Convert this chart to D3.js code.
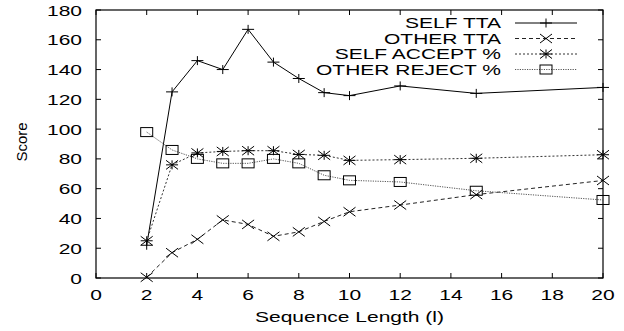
<!DOCTYPE html>
<html>
<head>
<meta charset="utf-8">
<script src="https://cdn.jsdelivr.net/npm/d3@7"></script>
<style>
  body { margin: 0; background: #fff; }
  text { font-family: "Liberation Sans", Arial, sans-serif; fill: #000; }
</style>
</head>
<body>
<div id="chart"></div>
<script>
// sequence lengths
const lengths = [2, 3, 4, 5, 6, 7, 8, 9, 10, 12, 15, 20];
const selfTta = [22, 125, 146, 140, 167, 145, 134, 124.5, 122.5, 129, 124, 128];
const otherTta = [0.5, 17, 26, 39, 36, 28, 31, 38, 44.5, 49, 56, 65.5];
const selfAccept = [25, 76, 84, 85, 85.5, 85.5, 83, 82.4, 79, 79.5, 80.4, 82.8];
const otherReject = [98, 86, 80, 77, 77, 80, 77, 69, 65.6, 64.5, 58.6, 52.4];
const xTicks = [0, 2, 4, 6, 8, 10, 12, 14, 16, 18, 20];
const yTicks = [0, 20, 40, 60, 80, 100, 120, 140, 160, 180];

const seriesNames = ['SELF TTA', 'OTHER TTA', 'SELF ACCEPT %', 'OTHER REJECT %'];
const seriesVals = [selfTta, otherTta, selfAccept, otherReject];
const dashes = [null, '4,3', '2,2', '1.2,1.2'];
const strokes = ['#000', '#222', '#333', '#555'];
const markers = ['plus', 'cross', 'star', 'square'];

const width = 624, height = 331;
const margin = {left: 96, right: 21, top: 10, bottom: 53};

const svg = d3.select('#chart').append('svg')
    .attr('width', width)
    .attr('height', height);

const x = d3.scaleLinear().domain([0, 20]).range([margin.left, width - margin.right]);
const y = d3.scaleLinear().domain([0, 180]).range([height - margin.bottom, margin.top]);

const tickLen = 5;
const stretch = 1.5; // the labels in the original are wide

function addText(tx, ty, str, anchor) {
  return svg.append('text')
      .attr('transform', 'translate(' + tx + ',' + ty + ') scale(' + stretch + ',1)')
      .attr('text-anchor', anchor)
      .style('font-size', '14px')
      .text(str);
}

// ticks on all four sides (gnuplot style, pointing inward)
const g = svg.append('g').attr('stroke', '#000').attr('stroke-width', 1);
xTicks.forEach(t => {
  g.append('line').attr('x1', x(t)).attr('x2', x(t)).attr('y1', y(0)).attr('y2', y(0) - tickLen);
  g.append('line').attr('x1', x(t)).attr('x2', x(t)).attr('y1', y(180)).attr('y2', y(180) + tickLen);
});
yTicks.forEach(t => {
  g.append('line').attr('x1', x(0)).attr('x2', x(0) + tickLen).attr('y1', y(t)).attr('y2', y(t));
  g.append('line').attr('x1', x(20)).attr('x2', x(20) - tickLen).attr('y1', y(t)).attr('y2', y(t));
});

svg.append('rect')
    .attr('x', x(0)).attr('y', y(180))
    .attr('width', x(20) - x(0)).attr('height', y(0) - y(180))
    .attr('fill', 'none').attr('stroke', '#000').attr('stroke-width', 1.2);

xTicks.forEach(t => addText(x(t), y(0) + 22, t, 'middle'));
yTicks.forEach(t => addText(x(0) - 14, y(t) + 5.5, t, 'end'));

addText((x(0) + x(20)) / 2, height - 9, 'Sequence Length (l)', 'middle');

svg.append('text')
    .attr('transform', 'translate(27,142) rotate(-90)')
    .attr('text-anchor', 'middle')
    .style('font-size', '15px')
    .text('Score');

function drawMarker(sel, type, cx, cy) {
  const sx = 6, sy = 4.5;
  if (type === 'plus') {
    sel.append('path').attr('d', `M${cx - sx},${cy}H${cx + sx}M${cx},${cy - sy}V${cy + sy}`);
  } else if (type === 'cross') {
    sel.append('path').attr('d', `M${cx - sx},${cy - sy}L${cx + sx},${cy + sy}M${cx - sx},${cy + sy}L${cx + sx},${cy - sy}`);
  } else if (type === 'star') {
    sel.append('path').attr('d', `M${cx - sx},${cy}H${cx + sx}M${cx},${cy - sy}V${cy + sy}M${cx - sx},${cy - sy}L${cx + sx},${cy + sy}M${cx - sx},${cy + sy}L${cx + sx},${cy - sy}`);
  } else {
    sel.append('rect').attr('x', cx - sx).attr('y', cy - sy).attr('width', 2 * sx).attr('height', 2 * sy).attr('fill', 'none');
  }
}

const line = d3.line().x(d => x(d[0])).y(d => y(d[1]));

seriesVals.forEach((vals, i) => {
  const pts = lengths.map((l, j) => [l, vals[j]]);
  svg.append('path')
      .attr('d', line(pts))
      .attr('fill', 'none')
      .attr('stroke', strokes[i])
      .attr('stroke-width', 1)
      .attr('stroke-dasharray', dashes[i]);
  const mg = svg.append('g').attr('stroke', '#000').attr('stroke-width', 1).attr('fill', 'none');
  pts.forEach(p => drawMarker(mg, markers[i], x(p[0]), y(p[1])));
});

// legend
const legX = 501, legY0 = 23, legDy = 15.5;
seriesNames.forEach((name, i) => {
  const ly = legY0 + i * legDy;
  addText(legX, ly + 5, name, 'end');
  svg.append('line')
      .attr('x1', 515).attr('x2', 577).attr('y1', ly).attr('y2', ly)
      .attr('stroke', strokes[i]).attr('stroke-width', 1)
      .attr('stroke-dasharray', dashes[i]);
  const mg = svg.append('g').attr('stroke', '#000').attr('stroke-width', 1).attr('fill', 'none');
  drawMarker(mg, markers[i], 546, ly);
});
</script>
</body>
</html>
